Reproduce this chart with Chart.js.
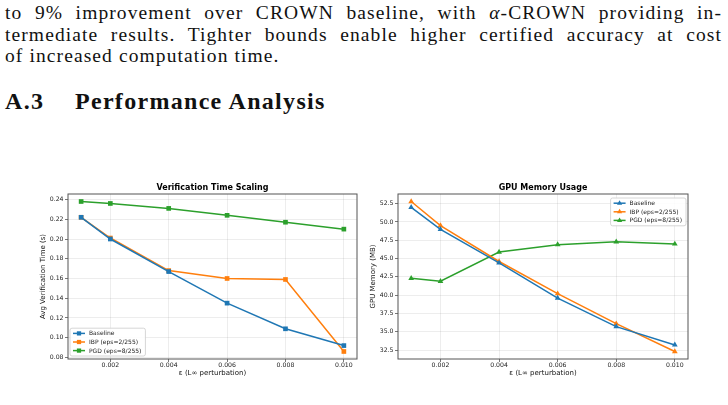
<!DOCTYPE html>
<html>
<head>
<meta charset="utf-8">
<script src="https://cdn.jsdelivr.net/npm/chart.js@4.4.1/dist/chart.umd.min.js"></script>
<style>
  body { margin: 0; width: 728px; height: 405px; background: #fff; overflow: hidden; position: relative; }
  .para { position: absolute; left: 5px; width: 717px; font-family: "Liberation Serif", serif; font-size: 19.5px; line-height: 21.5px; letter-spacing: 1.1px; color: #111; }
  .para div { text-align: justify; text-align-last: justify; }
  .para div.last { text-align-last: left; }
  .head { position: absolute; top: 88px; font-family: "Liberation Serif", serif; font-weight: bold; font-size: 24px; letter-spacing: 1.3px; color: #111; }
  canvas { position: absolute; top: 178px; }
</style>
</head>
<body>
<div class="para" style="top:2px">
  <div>to 9% improvement over CROWN baseline, with <i>α</i>-CROWN providing in-</div>
  <div>termediate results. Tighter bounds enable higher certified accuracy at cost</div>
  <div class="last">of increased computation time.</div>
</div>
<div class="head" style="left:5px">A.3</div>
<div class="head" style="left:75px">Performance Analysis</div>

<canvas id="timeChart" width="364" height="207" style="left:0"></canvas>
<canvas id="memChart" width="364" height="207" style="left:364px"></canvas>

<script>
const epsValues = [0.001, 0.002, 0.004, 0.006, 0.008, 0.010];
const seriesLabels = ["Baseline", "IBP (eps=2/255)", "PGD (eps=8/255)"];
const seriesColors = ["#1f77b4", "#ff7f0e", "#2ca02c"];

const timeBaseline = [0.222, 0.200, 0.167, 0.135, 0.109, 0.092];
const timeIbp = [0.222, 0.201, 0.168, 0.160, 0.159, 0.086];
const timePgd = [0.238, 0.236, 0.231, 0.224, 0.217, 0.210];

const memBaseline = [52.0, 49.0, 44.4, 39.6, 35.7, 33.2];
const memIbp = [52.8, 49.5, 44.6, 40.2, 36.1, 32.3];
const memPgd = [42.3, 41.9, 45.9, 46.9, 47.3, 47.0];

const epsTicks = [0.002, 0.004, 0.006, 0.008, 0.010];
const timeTicks = [0.08, 0.10, 0.12, 0.14, 0.16, 0.18, 0.20, 0.22, 0.24];
const memTicks = [32.5, 35.0, 37.5, 40.0, 42.5, 45.0, 47.5, 50.0, 52.5];

const FONT = "'DejaVu Sans', sans-serif";

const frame = {
  id: "frame",
  afterDatasetsDraw(chart, args, opts) {
    const { ctx, chartArea: a } = chart;
    ctx.save();
    ctx.strokeStyle = "#555";
    ctx.lineWidth = 1;
    ctx.strokeRect(a.left, a.top, a.right - a.left, a.bottom - a.top);
    // title
    ctx.fillStyle = "#000";
    ctx.font = "bold 8px " + FONT;
    ctx.textAlign = "center";
    ctx.textBaseline = "middle";
    ctx.fillText(opts.title, (a.left + a.right) / 2, a.top - 6);
    // legend inside the axes
    ctx.font = "6px " + FONT;
    const rowH = 8.6;
    const textW = Math.max(...chart.data.datasets.map((d) => ctx.measureText(d.label).width));
    const w = 19 + textW + 4;
    const h = rowH * chart.data.datasets.length + 2;
    const x0 = opts.corner === "ll" ? a.left + 2 : a.right - 2 - w;
    const y0 = opts.corner === "ll" ? a.bottom - 3 - h : a.top + 4;
    ctx.fillStyle = "rgba(255,255,255,0.85)";
    ctx.strokeStyle = "#ccc";
    ctx.lineWidth = 0.8;
    ctx.beginPath();
    ctx.roundRect(x0, y0, w, h, 2);
    ctx.fill();
    ctx.stroke();
    chart.data.datasets.forEach((d, i) => {
      const y = y0 + 5.2 + i * rowH;
      ctx.strokeStyle = d.borderColor;
      ctx.lineWidth = 1.5;
      ctx.beginPath();
      ctx.moveTo(x0 + 3, y);
      ctx.lineTo(x0 + 15, y);
      ctx.stroke();
      ctx.fillStyle = d.borderColor;
      Chart.helpers.drawPoint(ctx, { pointStyle: d.pointStyle, radius: 3, borderWidth: 0 }, x0 + 9, y);
      ctx.fillStyle = "#222";
      ctx.textAlign = "left";
      ctx.fillText(d.label, x0 + 19, y + 0.5);
    });
    ctx.restore();
  },
};

function makeChart(id, series, style, ticksY, yRange, fmtY, yTitle, yWidth, yTitlePad, padRight, title, corner) {
  return new Chart(document.getElementById(id), {
    type: "scatter",
    data: {
      datasets: series.map((vals, i) => ({
        label: seriesLabels[i],
        data: epsValues.map((x, j) => ({ x, y: vals[j] })),
        showLine: true,
        borderColor: seriesColors[i],
        backgroundColor: seriesColors[i],
        borderWidth: 1.5,
        pointStyle: style,
        pointRadius: 3.3,
        pointBorderWidth: 0,
        tension: 0,
      })),
    },
    options: {
      responsive: false,
      animation: false,
      devicePixelRatio: 1,
      layout: { padding: { top: 16, right: padRight, left: 0, bottom: 0 } },
      plugins: { legend: { display: false }, tooltip: { enabled: false }, frame: { title, corner } },
      scales: {
        x: {
          type: "linear",
          min: 0.00055,
          max: 0.01045,
          afterBuildTicks: (s) => { s.ticks = epsTicks.map((v) => ({ value: v })); },
          afterFit: (s) => { s.height = 26; },
          ticks: { autoSkip: false, maxRotation: 0, padding: 0, color: "#222", font: { family: FONT, size: 6.2 }, callback: (v) => v.toFixed(3) },
          grid: { color: "rgba(0,0,0,0.09)", lineWidth: 0.8, tickLength: 3, tickColor: "#555", tickWidth: 0.8 },
          border: { display: false },
          title: { display: true, text: "ε (L∞ perturbation)", color: "#111", font: { family: FONT, size: 7 }, padding: { top: 0, bottom: 7.3 } },
        },
        y: {
          min: yRange[0],
          max: yRange[1],
          afterBuildTicks: (s) => { s.ticks = ticksY.map((v) => ({ value: v })); },
          afterFit: (s) => { s.width = yWidth; },
          ticks: { autoSkip: false, padding: 1.5, color: "#222", font: { family: FONT, size: 6.2 }, callback: fmtY },
          grid: { color: "rgba(0,0,0,0.09)", lineWidth: 0.8, tickLength: 3, tickColor: "#555", tickWidth: 0.8 },
          border: { display: false },
          title: { display: true, text: yTitle, color: "#111", font: { family: FONT, size: 7 }, padding: { top: yTitlePad, bottom: 0 } },
        },
      },
    },
    plugins: [frame],
  });
}

makeChart("timeChart", [timeBaseline, timeIbp, timePgd], "rect", timeTicks, [0.0784, 0.2456],
  (v) => v.toFixed(2), "Avg Verification Time (s)", 68, 38.5, 7, "Verification Time Scaling", "ll");
makeChart("memChart", [memBaseline, memIbp, memPgd], "triangle", memTicks, [31.275, 53.825],
  (v) => v.toFixed(1), "GPU Memory (MB)", 34, 4.5, 40, "GPU Memory Usage", "ur");
</script>
</body>
</html>
